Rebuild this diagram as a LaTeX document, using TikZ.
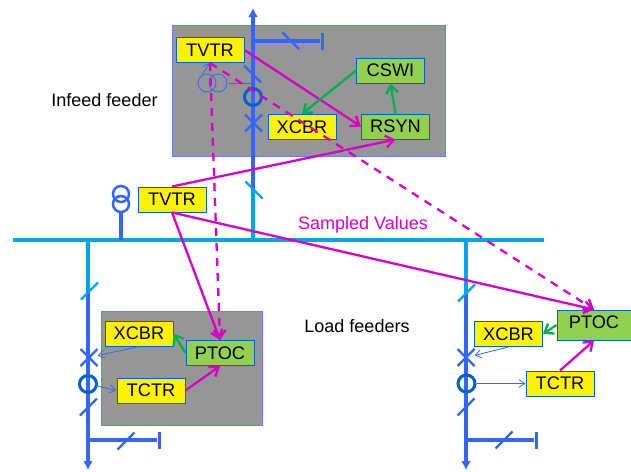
\documentclass[tikz,border=0pt]{standalone}
\usepackage{fontspec}
\setmainfont{Liberation Sans}
\usepackage{xcolor}
\usetikzlibrary{arrows.meta, shapes.misc}
\definecolor{linkmagenta}{RGB}{214, 0, 200}
\definecolor{tripgreen}{RGB}{0, 176, 80}
\definecolor{feederblue}{RGB}{51, 102, 255}
\definecolor{busblue}{RGB}{0, 166, 235}
\definecolor{ringblue}{RGB}{0, 96, 208}
\definecolor{leafgreen}{RGB}{146, 208, 80}

\begin{document}
\begin{tikzpicture}[
    x=1pt, y=-1pt,
    labeltext/.style={font=\fontsize{18}{20}\selectfont},
    yellowbox/.style={rectangle, draw=ringblue, line width=1pt, fill=yellow, inner sep=0pt,
                      minimum width=68pt, minimum height=25pt, font=\fontsize{18.2}{20}\selectfont},
    greenbox/.style={yellowbox, fill=leafgreen},
    zonebox/.style={rectangle, draw=feederblue!80, line width=1pt, fill=black!41, inner sep=0pt},
    feeder/.style={draw=feederblue, line width=3.2pt},
    busline/.style={draw=busblue, line width=3.2pt},
    feederend/.style={feeder, -{Latex[length=9pt, width=10pt]}},
    ringnode/.style={circle, draw=ringblue, line width=3pt, minimum size=17pt, inner sep=0pt},
    windingnode/.style={circle, draw=feederblue, line width=2.5pt, minimum size=16pt, inner sep=0pt},
    thinwinding/.style={circle, draw=feederblue, line width=0.8pt, minimum size=18pt, inner sep=0pt},
    crossnode/.style={cross out, draw=feederblue, line width=2.4pt, minimum size=17pt, inner sep=0pt, outer sep=0pt},
    slashnode/.style={strike out, draw=feederblue, line width=2.4pt, minimum size=17pt, inner sep=0pt, outer sep=0pt},
    barnode/.style={rectangle, fill=feederblue, minimum width=3pt, minimum height=17pt, inner sep=0pt},
    svlink/.style={draw=linkmagenta, line width=2.3pt, -{Straight Barb[length=8pt, width=12pt, line width=2.3pt]}},
    svdashed/.style={svlink, dash pattern=on 8pt off 7pt},
    triplink/.style={draw=tripgreen, line width=2.3pt, -{Straight Barb[length=8pt, width=12pt, line width=2.3pt]}},
    thinlink/.style={draw=feederblue, line width=0.8pt, -{Straight Barb[length=6pt, width=8pt, line width=0.8pt]}}
]
    \useasboundingbox (0,0) rectangle (631,471);

    \node[zonebox, minimum width=273pt, minimum height=131pt] (infeedzone) at (308.5,90.5) {};
    \node[zonebox, minimum width=161pt, minimum height=114pt] (loadzone) at (181.5,368) {};

    \coordinate (bustapinfeed) at (253,240);
    \coordinate (bustapleft) at (88,240);
    \coordinate (bustapright) at (466,240);
    \coordinate (bustapvt) at (121,240);
    \coordinate (infeedtop) at (253,8);
    \coordinate (infeedjoin) at (253,190);
    \coordinate (leftjoin) at (88,291);
    \coordinate (rightjoin) at (466,293);
    \coordinate (leftbottom) at (88,470);
    \coordinate (rightbottom) at (466,470);
    \coordinate (infeedbranch) at (253,41);
    \coordinate (leftbranch) at (88,440);
    \coordinate (rightbranch) at (466,440);
    \coordinate (busleft) at (13,240);
    \coordinate (busright) at (544,240);

    \draw[busline] (busleft) -- (busright);
    \draw[busline] (bustapinfeed) -- (infeedjoin);
    \draw[busline] (bustapleft) -- (leftjoin);
    \draw[busline] (bustapright) -- (rightjoin);
    \draw[feederend] (infeedjoin) -- (infeedtop);
    \draw[feederend] (leftjoin) -- (leftbottom);
    \draw[feederend] (rightjoin) -- (rightbottom);

    \node[barnode] (infeedbar) at (322,41) {};
    \node[barnode] (leftbar) at (159,440) {};
    \node[barnode] (rightbar) at (536,440) {};
    \draw[feeder] (infeedbranch) -- (infeedbar);
    \draw[feeder] (leftbranch) -- (leftbar);
    \draw[feeder] (rightbranch) -- (rightbar);

    \node[slashnode, rotate=90] (infeedslashbranch) at (290.5,40.5) {};
    \node[slashnode, rotate=90] (infeedslashtop) at (252.5,74) {};
    \node[slashnode, rotate=90, draw=busblue] (infeedslashbus) at (254,190) {};
    \node[ringnode] (infeedring) at (253,97) {};
    \node[crossnode] (infeedcross) at (253.5,123) {};

    \node[slashnode, draw=busblue] (leftslashbus) at (89.5,291) {};
    \node[crossnode] (leftcross) at (89,357.5) {};
    \node[ringnode] (leftring) at (88,384) {};
    \node[slashnode] (leftslashlow) at (88.5,407) {};
    \node[slashnode] (leftslashbranch) at (126,441) {};

    \node[slashnode, draw=busblue] (rightslashbus) at (466.5,293) {};
    \node[crossnode] (rightcross) at (466,357.5) {};
    \node[ringnode] (rightring) at (466.5,383.5) {};
    \node[slashnode] (rightslashlow) at (466,407) {};
    \node[slashnode] (rightslashbranch) at (504,440) {};

    \node[windingnode] (vtlower) at (121,204) {};
    \node[windingnode] (vtupper) at (121,194) {};
    \draw[feeder] (bustapvt) -- (vtlower);

    \node[thinwinding] (infeedwindleft) at (207,83) {};
    \node[thinwinding] (infeedwindright) at (218,83) {};
    \draw[draw=feederblue, line width=0.8pt] (infeedwindright.east) ++(2,0) -- (infeedslashtop |- infeedwindright);

    \node[yellowbox] (tvtrinfeed) at (210,50) {TVTR};
    \node[greenbox] (cswi) at (390.5,70.5) {CSWI};
    \node[yellowbox] (xcbrinfeed) at (302,127) {XCBR};
    \node[greenbox] (rsyn) at (395.5,126.5) {RSYN};
    \node[yellowbox] (tvtrbus) at (172,199.5) {TVTR};

    \node[yellowbox] (xcbrleft) at (139,333.5) {XCBR};
    \node[greenbox] (ptocleft) at (220,353) {PTOC};
    \node[yellowbox] (tctrleft) at (151,390.5) {TCTR};

    \node[greenbox, minimum width=74pt, minimum height=30pt, text depth=6pt] (ptocright) at (594,325) {PTOC};
    \node[yellowbox] (xcbrright) at (508.5,334) {XCBR};
    \node[yellowbox] (tctrright) at (560,383.5) {TCTR};

    \node[labeltext, text=linkmagenta] (sampledlabel) at (363,225) {Sampled Values};
    \node[labeltext] (infeedlabel) at (104.5,100) {Infeed feeder};
    \node[labeltext] (loadlabel) at (357,326) {Load feeders};

    \draw[thinlink] (infeedwindleft.north) ++(-5,1) -- (tvtrinfeed.south);
    \draw[svdashed] (tvtrinfeed.south) -- (ptocleft.north);
    \draw[svdashed] (tvtrinfeed.south) -- (ptocright.north);
    \draw[svlink] (tvtrinfeed.east) -- (rsyn.west);
    \draw[svlink] (tvtrbus.north) -- (rsyn.south);
    \draw[svlink] (tvtrbus.south) -- (ptocleft.north);
    \draw[svlink] (tvtrbus.south) -- (ptocright.north);
    \draw[svlink] (tctrleft.east) -- (ptocleft.south);
    \draw[svlink] (tctrright.north) -- (ptocright.south);

    \draw[triplink] (cswi.west) -- (xcbrinfeed.north);
    \draw[triplink] (rsyn.north) -- (cswi.south);
    \draw[triplink] (ptocleft.west) -- (xcbrleft.east);
    \draw[triplink] (ptocright.west) -- (xcbrright.east);

    \draw[thinlink] (xcbrleft.south) -- (leftcross);
    \draw[thinlink] (leftring) -- (tctrleft.west);
    \draw[thinlink] (xcbrright.south) -- (rightcross);
    \draw[thinlink] (rightring) -- (tctrright.west);
\end{tikzpicture}
\end{document}
